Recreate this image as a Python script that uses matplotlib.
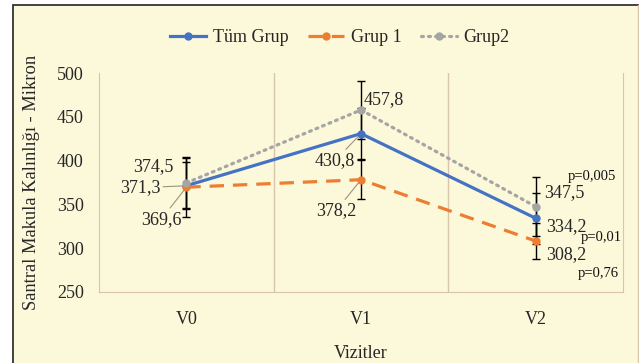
import matplotlib.pyplot as plt
from matplotlib.patches import Rectangle
from matplotlib.lines import Line2D

# veriler
visits = ['V0', 'V1', 'V2']
tum_grup = [371.3, 430.8, 334.2]
grup1 = [369.6, 378.2, 308.2]
grup2 = [374.5, 457.8, 347.5]
tum_err = [27, 29, 29]
grup1_err = [34, 22, 21]
grup2_err = [29, 33, 34]
p_values = ['p=0,005', 'p=0,01', 'p=0,76']

plt.rcParams['font.family'] = 'Liberation Serif'
cream = '#FCF8DA'
grid_c = '#D9C4B0'
txt_c = '#262626'

fig = plt.figure(figsize=(6.39, 3.63), dpi=100, facecolor='white')
fig.patches.append(Rectangle((12.5 / 639, -0.05), 1.1, 1 - 4.5 / 363 + 0.05,
                             transform=fig.transFigure, facecolor=cream,
                             edgecolor='#333333', linewidth=1.3, zorder=-5))
fig.lines.append(Line2D([637.5 / 639] * 2, [0, 1 - 5 / 363],
                        transform=fig.transFigure, color=grid_c, lw=1))

ax = fig.add_axes([99 / 639, 1 - 292 / 363, 524 / 639, 219 / 363])
ax.set_facecolor('none')

x = list(range(len(visits)))
series = [
    ('Tüm Grup', tum_grup, tum_err, '#4472C4', '-'),
    ('Grup 1', grup1, grup1_err, '#ED7D31', (0, (4.5, 2.8))),
    ('Grup2', grup2, grup2_err, '#A5A5A5', (0, (0.6, 1.6))),
]
for name, vals, err, col, ls in series:
    ax.errorbar(x, vals, yerr=err, fmt='none', ecolor='black', elinewidth=1,
                capsize=3, capthick=1, zorder=2)
for name, vals, err, col, ls in series:
    ax.plot(x, vals, color=col, linestyle=ls, linewidth=2.3, marker='o',
            markersize=5, label=name, zorder=3, dash_capstyle='round'
            if name == 'Grup2' else 'butt')

ax.set_xlim(-0.5, 2.5)
ax.set_ylim(250, 500)
ax.set_xticks(x)
ax.set_xticklabels(visits, fontsize=13)
ax.set_yticks([250, 300, 350, 400, 450, 500])
ax.tick_params(axis='both', length=0, labelsize=13, colors=txt_c)
ax.tick_params(axis='x', pad=14)
ax.tick_params(axis='y', pad=11)
for xv in [0.5, 1.5]:
    ax.axvline(xv, color=grid_c, linewidth=1, zorder=1)
for s in ['left', 'right', 'bottom']:
    ax.spines[s].set_color(grid_c)
ax.spines['top'].set_visible(False)

ax.set_xlabel('Vizitler', fontsize=13, color=txt_c, labelpad=12)
ax.set_ylabel('Santral Makula Kalınlığı - Mikron', fontsize=13.3,
              color=txt_c, labelpad=12)

# veri etiketleri (nokta, metin kaydırma piksel)
lead = dict(arrowstyle='-', color='#A09080', lw=0.8, shrinkA=0, shrinkB=3)
labels = [
    (0, grup2[0], (-13, 16), 'right', None),
    (0, tum_grup[0], (-26, -2), 'right', lead),
    (0, grup1[0], (-25, -32), 'center', lead),
    (1, grup2[1], (3, 10), 'left', None),
    (1, tum_grup[1], (-26, -27), 'center', lead),
    (1, grup1[1], (-25, -31), 'center', lead),
    (2, grup2[2], (8, 14), 'left', None),
    (2, tum_grup[2], (10, -8), 'left', None),
    (2, grup1[2], (10, -14), 'left', None),
]
for xi, v, off, ha, arrow in labels:
    ax.annotate(f'{v:.1f}'.replace('.', ','), xy=(xi, v), xytext=off,
                textcoords='offset pixels', ha=ha, va='center',
                fontsize=13, color=txt_c, arrowprops=arrow, zorder=4)

p_offsets = [(32, 30), (45, -19), (42, -32)]
for txt, v, off in zip(p_values, [grup2[2], tum_grup[2], grup1[2]], p_offsets):
    ax.annotate(txt, xy=(2, v), xytext=off, textcoords='offset pixels',
                ha='left', va='center', fontsize=10.5, color='#111111')

fig.legend(loc='center', bbox_to_anchor=(0.532, 1 - 38 / 363), ncol=3,
           frameon=False, fontsize=13, handlelength=2.0, columnspacing=1.1,
           handletextpad=0.35, labelcolor=txt_c)

fig.savefig('out.png', dpi=100, facecolor='white')
